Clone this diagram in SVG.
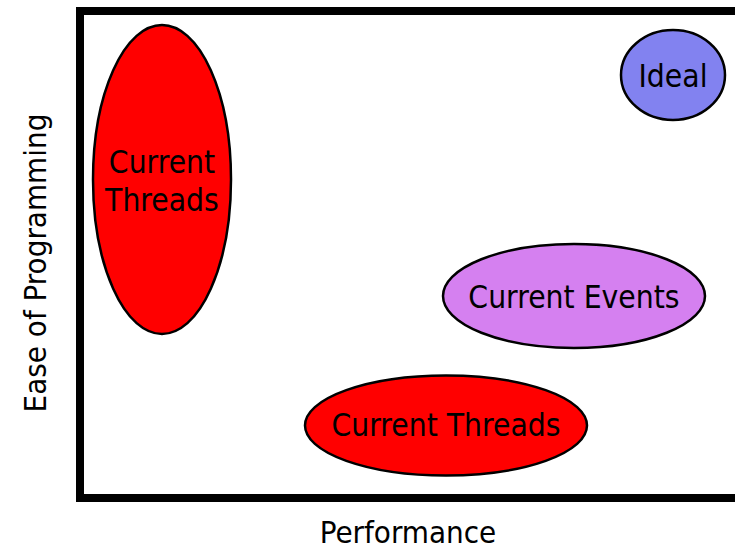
<svg xmlns="http://www.w3.org/2000/svg" width="735" height="549" viewBox="0 0 735 549">
<style>
.n{stroke:#000;stroke-width:2.5}
text{font-family:"DejaVu Sans Condensed","DejaVu Sans",sans-serif;font-stretch:condensed;font-size:31.5px;fill:#000;text-anchor:middle}
.ax{font-size:31px}
</style>
<rect width="735" height="549" fill="#fff"/>
<g id="frame">
<rect x="80" y="11" width="690" height="487" fill="none" stroke="#000" stroke-width="8"/>
</g>
<g id="axis-y"><text class="ax" transform="translate(46,263) rotate(-90)">Ease of Programming</text></g>
<g id="axis-x"><text class="ax" x="408" y="543">Performance</text></g>
<g id="threads-vertical">
<ellipse class="n" cx="162" cy="179.5" rx="69" ry="154.5" fill="#ff0000"/>
<text x="162" y="173">Current</text>
<text x="162" y="211">Threads</text>
</g>
<g id="ideal">
<ellipse class="n" cx="673" cy="75" rx="52" ry="45" fill="#8282f0"/>
<text x="673" y="87">Ideal</text>
</g>
<g id="current-events">
<ellipse class="n" cx="574" cy="296" rx="131" ry="52" fill="#d580f0"/>
<text x="574" y="308">Current Events</text>
</g>
<g id="threads-horizontal">
<ellipse class="n" cx="446" cy="425.5" rx="141" ry="50" fill="#ff0000"/>
<text x="446" y="436">Current Threads</text>
</g>
<g id="connectors"/>
</svg>
